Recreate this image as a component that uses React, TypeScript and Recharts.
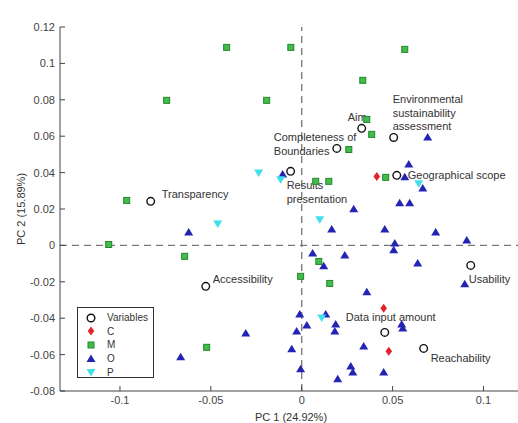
import { ScatterChart, Scatter, XAxis, YAxis, ReferenceLine, Legend } from "recharts";

const xTicks = [-0.1, -0.05, 0, 0.05, 0.1];
const yTicks = [0.12, 0.1, 0.08, 0.06, 0.04, 0.02, 0, -0.02, -0.04, -0.06, -0.08];

// variables (open circles)
const varNames = [
    "Transparency",
    "Aim",
    "Environmental sustainability assessment",
    "Completeness of Boundaries",
    "Results presentation",
    "Geographical scope",
    "Accessibility",
    "Usability",
    "Data input amount",
    "Reachability",
];
const varX = [-0.0831, 0.033, 0.0506, 0.0193, -0.0061, 0.0523, -0.0528, 0.093, 0.0457, 0.0671];
const varY = [0.0242, 0.0643, 0.0593, 0.0533, 0.0407, 0.0385, -0.0225, -0.011, -0.0478, -0.0566];

// group C
const cX = [0.0413, 0.0451, 0.0479];
const cY = [0.0379, -0.0346, -0.0582];

// group M
const mX = [-0.0413, -0.0743, -0.0963, -0.1062, -0.0644, -0.0523, -0.006, 0.0567, 0.0336, -0.0193,
    0.0358, 0.0385, 0.0259, 0.0077, 0.0149, 0.0462, 0.0094, -0.0006, 0.0154];
const mY = [0.1088, 0.0797, 0.0247, 0.0005, -0.006, -0.056, 0.1088, 0.1077, 0.0907, 0.0797,
    0.0692, 0.061, 0.0527, 0.0352, 0.0352, 0.0374, -0.0088, -0.017, -0.0209];

// group O
const oX = [0.0693, 0.0589, -0.0105, 0.0567, 0.0666, 0.0539, 0.0594, 0.0286, -0.0622, 0.0165,
    0.0457, 0.0737, 0.0908, 0.0512, 0.0506, 0.006, 0.0237, 0.0638, 0.0121, 0.0897,
    0.0358, -0.0011, 0.0132, 0.0028, 0.0187, 0.0182, -0.0028, 0.055, 0.0556, 0.0341,
    -0.0055, -0.0308, -0.0666, -0.0006, 0.027, 0.0281, 0.0451, 0.0198];
const oY = [0.0593, 0.0445, 0.039, 0.0374, 0.0313, 0.0231, 0.0231, 0.0198, 0.0071, 0.0088,
    0.0088, 0.0071, 0.0027, 0.0011, -0.0027, -0.0044, -0.0055, -0.0099, -0.0115, -0.0214,
    -0.0258, -0.0379, -0.0379, -0.044, -0.0434, -0.0473, -0.0473, -0.0434, -0.0456, -0.0555,
    -0.0571, -0.0484, -0.0615, -0.0681, -0.0665, -0.0698, -0.0698, -0.0736];

// group P
const pX = [-0.0237, -0.0116, 0.0644, 0.0099, -0.0462, 0.011];
const pY = [0.0401, 0.0363, 0.0341, 0.0143, 0.0121, -0.0396];

const toPoints = (xs: number[], ys: number[], names?: string[]) =>
    xs.map((x, i) => ({ x, y: ys[i], name: names ? names[i] : "" }));

// where each variable's label sits relative to its circle
const labelLayout: Record<string, { dx: number; dy: number; lines: string[] }> = {
    Transparency: { dx: 11, dy: -3, lines: ["Transparency"] },
    Aim: { dx: -14, dy: -7, lines: ["Aim"] },
    "Environmental sustainability assessment": { dx: -1, dy: -34, lines: ["Environmental", "sustainability", "assessment"] },
    "Completeness of Boundaries": { dx: -63, dy: -7, lines: ["Completeness of", "Boundaries"] },
    "Results presentation": { dx: -4, dy: 18, lines: ["Results", "presentation"] },
    "Geographical scope": { dx: 11, dy: 4, lines: ["Geographical scope"] },
    Accessibility: { dx: 7, dy: -3, lines: ["Accessibility"] },
    Usability: { dx: -2, dy: 18, lines: ["Usability"] },
    "Data input amount": { dx: -39, dy: -11, lines: ["Data input amount"] },
    Reachability: { dx: 7, dy: 14, lines: ["Reachability"] },
};

const FONT = "'Liberation Sans', Arial, sans-serif";

const circleMark = (cx: number, cy: number) => (
    <circle cx={cx} cy={cy} r={3.8} fill="none" stroke="#111" strokeWidth={1.4} />
);
const diamondMark = (cx: number, cy: number) => (
    <path d={`M${cx},${cy - 4.5}L${cx + 3.3},${cy}L${cx},${cy + 4.5}L${cx - 3.3},${cy}Z`} fill="#e3222b" />
);
const squareMark = (cx: number, cy: number) => (
    <rect x={cx - 3} y={cy - 3} width={6} height={6} fill="#43bd4a" stroke="#23862c" strokeWidth={1} />
);
const upMark = (cx: number, cy: number) => (
    <path d={`M${cx},${cy - 4.5}L${cx + 4.5},${cy + 3}L${cx - 4.5},${cy + 3}Z`} fill="#2424b4" />
);
const downMark = (cx: number, cy: number) => (
    <path d={`M${cx},${cy + 4.5}L${cx + 4.5},${cy - 3}L${cx - 4.5},${cy - 3}Z`} fill="#3fe0ea" />
);

const variableShape = (p: any) => {
    const lay = labelLayout[p.payload?.name];
    return (
        <g>
            {circleMark(p.cx, p.cy)}
            {lay && (
                <text x={p.cx + lay.dx} y={p.cy + lay.dy} fontSize={11} fill="#333" fontFamily={FONT}>
                    {lay.lines.map((l, i) => (
                        <tspan key={i} x={p.cx + lay.dx} dy={i === 0 ? 0 : 13.5}>{l}</tspan>
                    ))}
                </text>
            )}
        </g>
    );
};

const series = [
    { name: "Variables", data: toPoints(varX, varY, varNames), mark: circleMark, shape: variableShape },
    { name: "C", data: toPoints(cX, cY), mark: diamondMark },
    { name: "M", data: toPoints(mX, mY), mark: squareMark },
    { name: "O", data: toPoints(oX, oY), mark: upMark },
    { name: "P", data: toPoints(pX, pY), mark: downMark },
];

const BottomTick = (p: any) => (
    <g>
        <line x1={p.x} y1={p.y} x2={p.x} y2={p.y - 5} stroke="#444" />
        <text x={p.x} y={p.y + 13} textAnchor="middle" fontSize={11} fill="#444" fontFamily={FONT}>
            {String(p.payload.value)}
        </text>
    </g>
);
const TopTick = (p: any) => <line x1={p.x} y1={p.y} x2={p.x} y2={p.y + 5} stroke="#444" />;
const LeftTick = (p: any) => (
    <g>
        <line x1={p.x} y1={p.y} x2={p.x + 5} y2={p.y} stroke="#444" />
        <text x={p.x - 5} y={p.y + 4} textAnchor="end" fontSize={11} fill="#444" fontFamily={FONT}>
            {String(p.payload.value)}
        </text>
    </g>
);
const RightTick = (p: any) => <line x1={p.x} y1={p.y} x2={p.x - 5} y2={p.y} stroke="#444" />;

const renderLegend = () => (
    <div
        style={{
            border: "1px solid #333",
            background: "#fff",
            width: 77,
            height: 71,
            paddingTop: 3,
            boxSizing: "border-box",
            fontFamily: FONT,
            fontSize: 10,
            color: "#333",
        }}
    >
        {series.map((s) => (
            <div key={s.name} style={{ display: "flex", alignItems: "center", height: 13.6 }}>
                <svg width={26} height={12} style={{ display: "block" }}>
                    {s.mark(13, 6)}
                </svg>
                <span style={{ marginLeft: 3 }}>{s.name}</span>
            </div>
        ))}
    </div>
);

export default function App() {
    return (
        <div style={{ position: "absolute", left: 0, top: 0, width: 518, height: 423, background: "#fff" }}>
            <ScatterChart width={518} height={423} margin={{ top: 27, right: 0, bottom: 0, left: 0 }}>
                <XAxis
                    type="number"
                    dataKey="x"
                    domain={[-0.133, 0.119]}
                    ticks={xTicks}
                    allowDataOverflow
                    height={32}
                    tickSize={0}
                    tickMargin={0}
                    tickLine={false}
                    axisLine={{ stroke: "#444" }}
                    tick={BottomTick}
                    interval={0}
                    label={{
                        content: (props: any) => {
                            const vb = props.viewBox;
                            return (
                                <text x={vb.x + vb.width / 2 + 2} y={vb.y + 30} textAnchor="middle" fontSize={11} fill="#333" fontFamily={FONT}>
                                    PC 1 (24.92%)
                                </text>
                            );
                        },
                    }}
                />
                <XAxis
                    xAxisId="top"
                    orientation="top"
                    type="number"
                    dataKey="x"
                    domain={[-0.133, 0.119]}
                    ticks={xTicks}
                    allowDataOverflow
                    height={0}
                    tickSize={0}
                    tickMargin={0}
                    tickLine={false}
                    axisLine={{ stroke: "#444" }}
                    tick={TopTick}
                    interval={0}
                    label={{
                        content: (props: any) => {
                            const vb = props.viewBox;
                            return (
                                <text x={vb.x + vb.width / 2} y={vb.y - 6} textAnchor="middle" fontSize={12} fontWeight="bold" fill="#222" fontFamily={FONT}>
                                    Biplot
                                </text>
                            );
                        },
                    }}
                />
                <YAxis
                    type="number"
                    dataKey="y"
                    domain={[-0.08, 0.12]}
                    ticks={yTicks}
                    allowDataOverflow
                    width={60}
                    tickSize={0}
                    tickMargin={0}
                    tickLine={false}
                    axisLine={{ stroke: "#444" }}
                    tick={LeftTick}
                    interval={0}
                    label={{
                        content: (props: any) => {
                            const vb = props.viewBox;
                            const cx = vb.x + 25;
                            const cy = vb.y + vb.height / 2;
                            return (
                                <text x={cx} y={cy} transform={`rotate(-90 ${cx} ${cy})`} textAnchor="middle" fontSize={11} fill="#333" fontFamily={FONT}>
                                    PC 2 (15.89%)
                                </text>
                            );
                        },
                    }}
                />
                <YAxis
                    yAxisId="right"
                    orientation="right"
                    type="number"
                    dataKey="y"
                    domain={[-0.08, 0.12]}
                    ticks={yTicks}
                    allowDataOverflow
                    width={0}
                    tickSize={0}
                    tickMargin={0}
                    tickLine={false}
                    axisLine={false}
                    tick={RightTick}
                    interval={0}
                />
                <ReferenceLine x={0} stroke="#777" strokeWidth={1.3} strokeDasharray="7 5" />
                <ReferenceLine y={0} stroke="#777" strokeWidth={1.3} strokeDasharray="7 5" />
                {series.map((s) => (
                    <Scatter
                        key={s.name}
                        name={s.name}
                        data={s.data}
                        isAnimationActive={false}
                        shape={s.shape ?? ((p: any) => s.mark(p.cx, p.cy))}
                    />
                ))}
                <Legend
                    layout="vertical"
                    align="center"
                    verticalAlign="middle"
                    content={renderLegend}
                    wrapperStyle={{ left: 77, top: 307, right: "auto", bottom: "auto", width: 77, height: 71 }}
                />
            </ScatterChart>
        </div>
    );
}
